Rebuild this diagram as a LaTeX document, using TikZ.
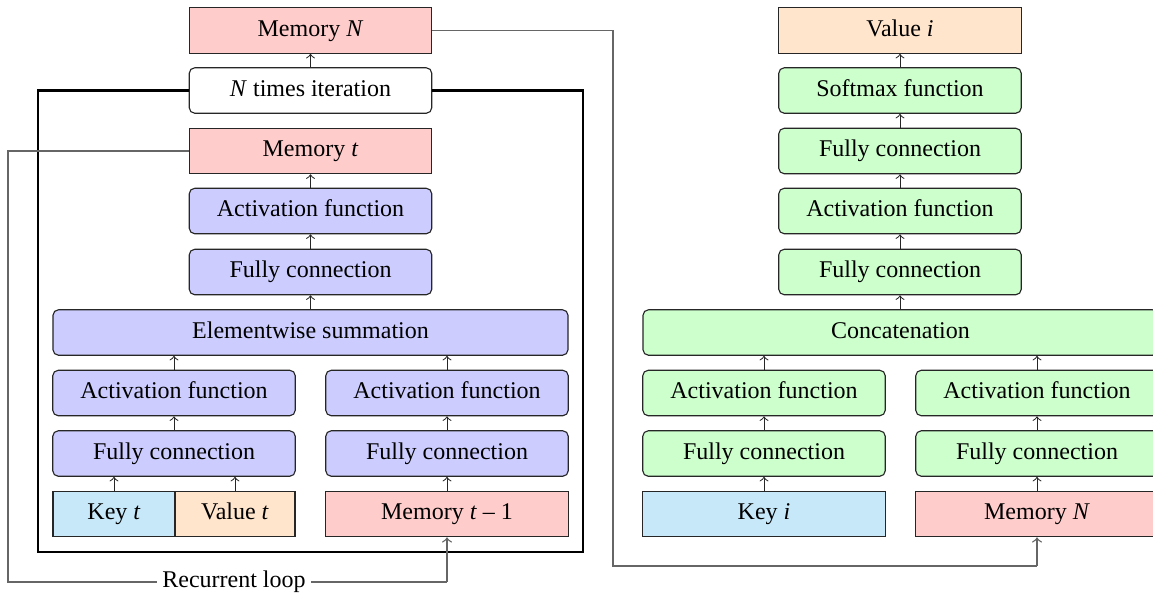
\documentclass[tikz,border=0pt]{standalone}
\usepackage{fontspec}
\setmainfont{Liberation Serif}
\begin{document}
\begin{tikzpicture}[x=0.4pt,y=-0.4pt,
  box/.style={draw=black!85, line width=0.45pt, minimum height=18.2pt, inner sep=0pt, text height=6.6pt, text depth=2pt, font=\fontsize{9.6}{11}\selectfont},
  rbox/.style={box, rounded corners=2.2pt},
  wN/.style={minimum width=97pt},
  wW/.style={minimum width=206pt},
  arr/.style={->, line width=0.4pt, black!85, >=to},
  wire/.style={line width=0.55pt, black!60},
  outer/.style={line width=1.1pt, black}]
\definecolor{memcol}{RGB}{255,204,204}
\definecolor{bluecol}{RGB}{204,204,255}
\definecolor{greencol}{RGB}{204,255,204}
\definecolor{keycol}{RGB}{198,232,248}
\definecolor{valcol}{RGB}{255,229,204}
\useasboundingbox (0,0) rectangle (1153,596);

% ---------- left part ----------
\node[box, wN, fill=memcol] (memN) at (310.5,30.5) {Memory \textit{N}};
\node[rbox, wN, fill=white] (iter) at (310.5,90.5) {\textit{N} times iteration};
\node[box, wN, fill=memcol] (memt) at (310.5,151) {Memory \textit{t}};
\node[rbox, wN, fill=bluecol] (act1) at (310.5,211) {Activation function};
\node[rbox, wN, fill=bluecol] (fc1) at (310.5,272) {Fully connection};
\node[rbox, wW, fill=bluecol] (sum) at (310.5,332.5) {Elementwise summation};
\node[rbox, wN, fill=bluecol] (actL) at (174,393) {Activation function};
\node[rbox, wN, fill=bluecol] (actR) at (447,393) {Activation function};
\node[rbox, wN, fill=bluecol] (fcL) at (174,453.5) {Fully connection};
\node[rbox, wN, fill=bluecol] (fcR) at (447,453.5) {Fully connection};
\node[box, minimum width=48.8pt, fill=keycol] (keyt) at (114,514) {Key \textit{t}};
\node[box, minimum width=48pt, fill=valcol] (valt) at (235,514) {Value \textit{t}};
\node[box, wN, fill=memcol] (memt1) at (447,514) {Memory \textit{t} – 1};

\draw[arr] (iter) -- (memN);
\draw[arr] (act1) -- (memt);
\draw[arr] (fc1) -- (act1);
\draw[arr] (sum.north) -- (fc1.south);
\draw[arr] (actL) -- (actL |- sum.south);
\draw[arr] (actR) -- (actR |- sum.south);
\draw[arr] (fcL) -- (actL);
\draw[arr] (fcR) -- (actR);
\draw[arr] (keyt) -- (keyt |- fcL.south);
\draw[arr] (valt) -- (valt |- fcL.south);
\draw[arr] (memt1) -- (fcR);

% outer frame
\coordinate (oBL) at (38,552);
\coordinate (oBR) at (583,552);
\draw[outer] (iter.west) -| (oBL) -- (oBR) |- (iter.east);

% recurrent loop
\coordinate (lA) at (8,151);
\coordinate (lB) at (8,582);
\coordinate (lC) at (447,582);
\node[font=\fontsize{9.6}{11}\selectfont, fill=white, inner sep=2pt] (loop) at (234,582) {Recurrent loop};
\draw[wire] (memt.west) -- (lA) -- (lB) -- (loop.west);
\draw[wire] (loop.east) -- (lC);
\draw[wire,->,>=to] (lC) -- (memt1.south);

% ---------- right part ----------
\node[box, wN, fill=valcol] (vali) at (900,30.5) {Value \textit{i}};
\node[rbox, wN, fill=greencol] (soft) at (900,90.5) {Softmax function};
\node[rbox, wN, fill=greencol] (fc3) at (900,151) {Fully connection};
\node[rbox, wN, fill=greencol] (act3) at (900,211) {Activation function};
\node[rbox, wN, fill=greencol] (fc2) at (900,272) {Fully connection};
\node[rbox, wW, fill=greencol] (cat) at (900.5,332.5) {Concatenation};
\node[rbox, wN, fill=greencol] (actL2) at (764,393) {Activation function};
\node[rbox, wN, fill=greencol] (actR2) at (1037,393) {Activation function};
\node[rbox, wN, fill=greencol] (fcL2) at (764,453.5) {Fully connection};
\node[rbox, wN, fill=greencol] (fcR2) at (1037,453.5) {Fully connection};
\node[box, wN, fill=keycol] (keyi) at (764,514) {Key \textit{i}};
\node[box, wN, fill=memcol] (memN2) at (1037,514) {Memory \textit{N}};

\draw[arr] (soft) -- (vali);
\draw[arr] (fc3) -- (soft);
\draw[arr] (act3) -- (fc3);
\draw[arr] (fc2) -- (act3);
\draw[arr] (cat.north -| fc2) -- (fc2);
\draw[arr] (actL2) -- (actL2 |- cat.south);
\draw[arr] (actR2) -- (actR2 |- cat.south);
\draw[arr] (fcL2) -- (actL2);
\draw[arr] (fcR2) -- (actR2);
\draw[arr] (keyi) -- (fcL2);
\draw[arr] (memN2) -- (fcR2);

% memory N link
\coordinate (mA) at (613,30.5);
\coordinate (mB) at (613,566);
\coordinate (mC) at (1037,566);
\draw[wire] (memN.east) -- (mA) -- (mB) -- (mC);
\draw[wire,->,>=to] (mC) -- (memN2.south);
\end{tikzpicture}
\end{document}
